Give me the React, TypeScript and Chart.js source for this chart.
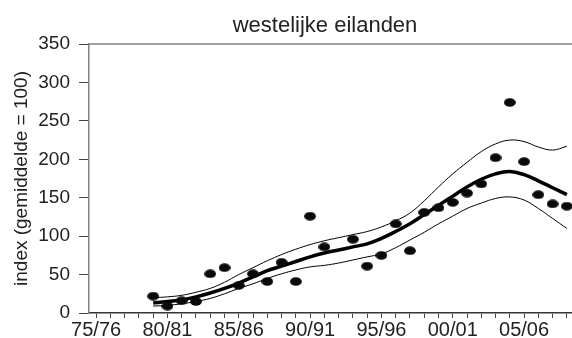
import React, { useEffect, useRef } from 'react';
import { Chart, registerables } from 'chart.js';

Chart.register(...registerables);

const chartTitle = 'westelijke eilanden';
const yAxisTitle = 'index (gemiddelde = 100)';

const seasons = [
  '75/76', '76/77', '77/78', '78/79', '79/80', '80/81', '81/82', '82/83', '83/84', '84/85',
  '85/86', '86/87', '87/88', '88/89', '89/90', '90/91', '91/92', '92/93', '93/94', '94/95',
  '95/96', '96/97', '97/98', '98/99', '99/00', '00/01', '01/02', '02/03', '03/04', '04/05',
  '05/06', '06/07', '07/08', '08/09',
];

const observed = [
  null, null, null, null,
  22, 9, 16, 15, 51, 59, 36, 51, 41, 66,
  41, 126, 86, null, 96, 61, 75, 116, 81, 131,
  137, 144, 156, 168, 202, 274, 197, 154, 142, 139,
];

const trend = [
  null, null, null, null,
  13, 15, 17, 21, 26, 32, 39, 47, 55, 61,
  67, 73, 78, 82, 86, 90, 97, 106, 116, 128,
  140, 152, 164, 174, 181, 184, 180, 172, 163, 154,
];

const upperBound = [
  null, null, null, null,
  20, 21, 23, 27, 32, 40, 50, 59, 68, 76,
  83, 89, 94, 98, 102, 106, 112, 120, 130, 146,
  164, 181, 196, 210, 220, 225, 223, 216, 212, 217,
];

const lowerBound = [
  null, null, null, null,
  9, 10, 12, 15, 19, 25, 32, 38, 45, 51,
  56, 60, 62, 65, 69, 73, 77, 85, 95, 105,
  116, 126, 136, 143, 149, 151, 147, 136, 123, 110,
];

const yTicks = [0, 50, 100, 150, 200, 250, 300, 350];

const FONT = '"Liberation Sans", Arial, Helvetica, sans-serif';

export default function App() {
  const ref = useRef<HTMLCanvasElement | null>(null);

  useEffect(() => {
    document.body.style.margin = '0';
    const canvas = ref.current;
    if (!canvas) return;

    const dot = document.createElement('canvas');
    dot.width = 12;
    dot.height = 9;
    const dctx = dot.getContext('2d')!;
    dctx.fillStyle = '#0a0a0a';
    dctx.beginPath();
    dctx.ellipse(6, 4.5, 5.9, 4.3, 0, 0, Math.PI * 2);
    dctx.fill();

    const decor = {
      id: 'decor',
      afterDraw(chart: any) {
        const { ctx, chartArea } = chart;
        ctx.save();
        ctx.strokeStyle = '#808080';
        ctx.lineWidth = 1.5;
        ctx.beginPath();
        ctx.moveTo(chartArea.left, chartArea.top);
        ctx.lineTo(chart.width, chartArea.top);
        ctx.stroke();
        ctx.fillStyle = '#222';
        ctx.font = `22px ${FONT}`;
        ctx.textAlign = 'center';
        ctx.textBaseline = 'alphabetic';
        ctx.fillText(chartTitle, 325, 32);
        ctx.restore();
      },
    };

    const chart = new Chart(canvas, {
      type: 'line',
      data: {
        labels: seasons,
        datasets: [
          {
            label: 'waarneming',
            data: observed,
            showLine: false,
            pointStyle: dot as any,
            pointRadius: 5,
            borderColor: '#111',
            backgroundColor: '#111',
          },
          {
            label: 'trend',
            data: trend,
            borderColor: '#000',
            borderWidth: 3.5,
            pointRadius: 0,
            tension: 0.4,
            fill: false,
          },
          {
            label: 'boven',
            data: upperBound,
            borderColor: '#000',
            borderWidth: 1,
            pointRadius: 0,
            tension: 0.4,
            fill: false,
          },
          {
            label: 'onder',
            data: lowerBound,
            borderColor: '#000',
            borderWidth: 1,
            pointRadius: 0,
            tension: 0.4,
            fill: false,
          },
        ],
      },
      options: {
        responsive: false,
        animation: false,
        devicePixelRatio: 1,
        layout: { padding: { top: 44, right: 4, bottom: 0, left: 0 } },
        plugins: {
          legend: { display: false },
          title: { display: false },
          tooltip: { enabled: false },
        },
        scales: {
          x: {
            type: 'category',
            offset: true,
            afterFit: (s: any) => { s.height = 25; },
            border: { display: true, color: '#333', width: 1.5 },
            grid: {
              display: true,
              drawOnChartArea: false,
              drawTicks: true,
              tickLength: 5,
              color: '#444',
              lineWidth: 1,
              offset: false,
            },
            ticks: {
              autoSkip: false,
              maxRotation: 0,
              minRotation: 0,
              padding: 2,
              color: '#222',
              font: { family: FONT, size: 20, lineHeight: 1 },
              callback: (_v: any, i: number) => (i % 5 === 0 ? seasons[i] : ''),
            },
          },
          y: {
            min: 0,
            max: 350,
            afterFit: (s: any) => { s.width = 89; },
            afterBuildTicks: (s: any) => { s.ticks = yTicks.map((v) => ({ value: v })); },
            border: { display: true, color: '#808080', width: 1.5 },
            grid: {
              display: true,
              drawOnChartArea: false,
              drawTicks: true,
              tickLength: 10,
              color: '#444',
              lineWidth: 1,
            },
            ticks: {
              padding: 9,
              color: '#222',
              font: { family: FONT, size: 19 },
            },
            title: {
              display: true,
              text: yAxisTitle,
              color: '#222',
              font: { family: FONT, size: 19 },
              padding: { top: 10, bottom: 0 },
            },
          },
        },
      },
      plugins: [decor],
    });

    return () => chart.destroy();
  }, []);

  return (
    <div style={{ width: 572, height: 338, overflow: 'hidden', background: '#fff' }}>
      <canvas ref={ref} width={580} height={338} style={{ display: 'block', width: 580, height: 338 }} />
    </div>
  );
}
